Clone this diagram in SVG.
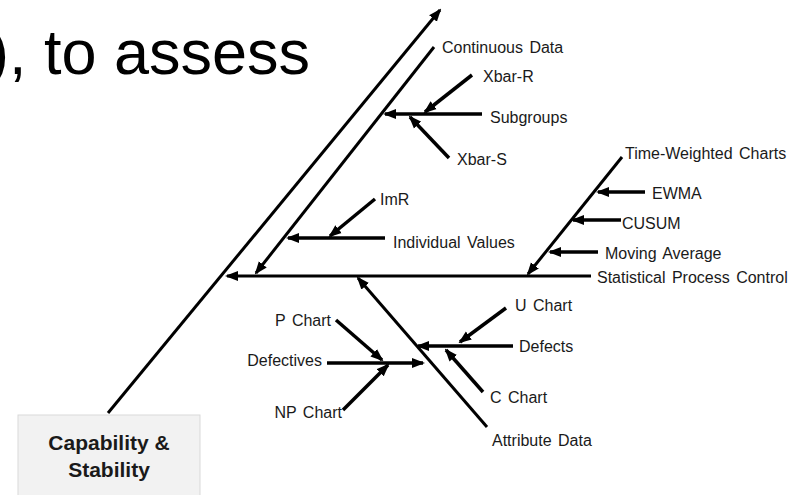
<svg xmlns="http://www.w3.org/2000/svg" width="794" height="495" viewBox="0 0 794 495">
<defs>
<marker id="ah" markerUnits="userSpaceOnUse" markerWidth="13" markerHeight="11" refX="11" refY="5" orient="auto" viewBox="0 0 13 10">
<path d="M0,0 L13,5 L0,10 z" fill="#000"/>
</marker>
</defs>
<style>
.lbl{font-family:"Liberation Sans",Arial,sans-serif;font-size:16px;fill:#1a1a1a;word-spacing:2px}
.ttl{font-family:"Liberation Sans",Arial,sans-serif;font-size:63px;fill:#000}
.box{fill:#f2f2f2;stroke:#d9d9d9;stroke-width:1}
.bt{font-family:"Liberation Sans",Arial,sans-serif;font-size:21px;font-weight:bold;fill:#1a1a1a}
.main{stroke:#000;stroke-width:3;fill:none}
.rib{stroke:#000;stroke-width:3.5;fill:none}
.arr{marker-end:url(#ah)}
</style>
<rect width="794" height="495" fill="#fff"/>
<text class="ttl" x="-12" y="74">), to assess</text>

<g id="connectors">
<line class="main arr" x1="108" y1="413" x2="440" y2="10"/>
<line class="main arr" x1="434" y1="47" x2="256" y2="273"/>
<line class="main arr" x1="591" y1="276" x2="227" y2="276"/>
<line class="rib arr" x1="482" y1="114" x2="385" y2="114"/>
<line class="rib arr" x1="472" y1="75" x2="425" y2="112"/>
<line class="rib arr" x1="449" y1="158" x2="410" y2="117"/>
<line class="rib arr" x1="385" y1="238" x2="288" y2="238"/>
<line class="rib arr" x1="375" y1="199" x2="330" y2="236"/>
<line class="main arr" x1="622" y1="157" x2="528" y2="274"/>
<line class="rib arr" x1="645" y1="192" x2="598" y2="192"/>
<line class="rib arr" x1="621" y1="220" x2="573" y2="220"/>
<line class="rib arr" x1="598" y1="252" x2="550" y2="252"/>
<line class="main arr" x1="487" y1="427" x2="358" y2="278"/>
<line class="rib arr" x1="336" y1="320" x2="382" y2="360"/>
<line class="rib arr" x1="327" y1="363" x2="423" y2="363"/>
<line class="rib arr" x1="343" y1="410" x2="388" y2="365"/>
<line class="rib arr" x1="513" y1="346" x2="418" y2="346"/>
<line class="rib arr" x1="506" y1="308" x2="460" y2="342"/>
<line class="rib arr" x1="483" y1="392" x2="446" y2="350"/>
</g>

<g id="capability">
<rect class="box" x="18" y="415" width="182" height="90"/>
<text class="bt" x="109" y="450" text-anchor="middle">Capability &amp;</text>
<text class="bt" x="109" y="477" text-anchor="middle">Stability</text>
</g>
<g id="continuous-data"><text class="lbl" x="442" y="53">Continuous Data</text></g>
<g id="xbar-r"><text class="lbl" x="483" y="82">Xbar-R</text></g>
<g id="subgroups"><text class="lbl" x="490" y="123">Subgroups</text></g>
<g id="xbar-s"><text class="lbl" x="457" y="165">Xbar-S</text></g>
<g id="imr"><text class="lbl" x="380" y="205">ImR</text></g>
<g id="individual-values"><text class="lbl" x="393" y="248">Individual Values</text></g>
<g id="time-weighted"><text class="lbl" x="625" y="159">Time-Weighted Charts</text></g>
<g id="ewma"><text class="lbl" x="652" y="199">EWMA</text></g>
<g id="cusum"><text class="lbl" x="622" y="229">CUSUM</text></g>
<g id="moving-average"><text class="lbl" x="605" y="259">Moving Average</text></g>
<g id="spc"><text class="lbl" x="597" y="283">Statistical Process Control</text></g>
<g id="u-chart"><text class="lbl" x="515" y="311">U Chart</text></g>
<g id="defects"><text class="lbl" x="519" y="352">Defects</text></g>
<g id="c-chart"><text class="lbl" x="490" y="403">C Chart</text></g>
<g id="attribute-data"><text class="lbl" x="492" y="446">Attribute Data</text></g>
<g id="p-chart"><text class="lbl" x="331" y="326" text-anchor="end">P Chart</text></g>
<g id="defectives"><text class="lbl" x="322" y="366" text-anchor="end">Defectives</text></g>
<g id="np-chart"><text class="lbl" x="342" y="418" text-anchor="end">NP Chart</text></g>
</svg>
